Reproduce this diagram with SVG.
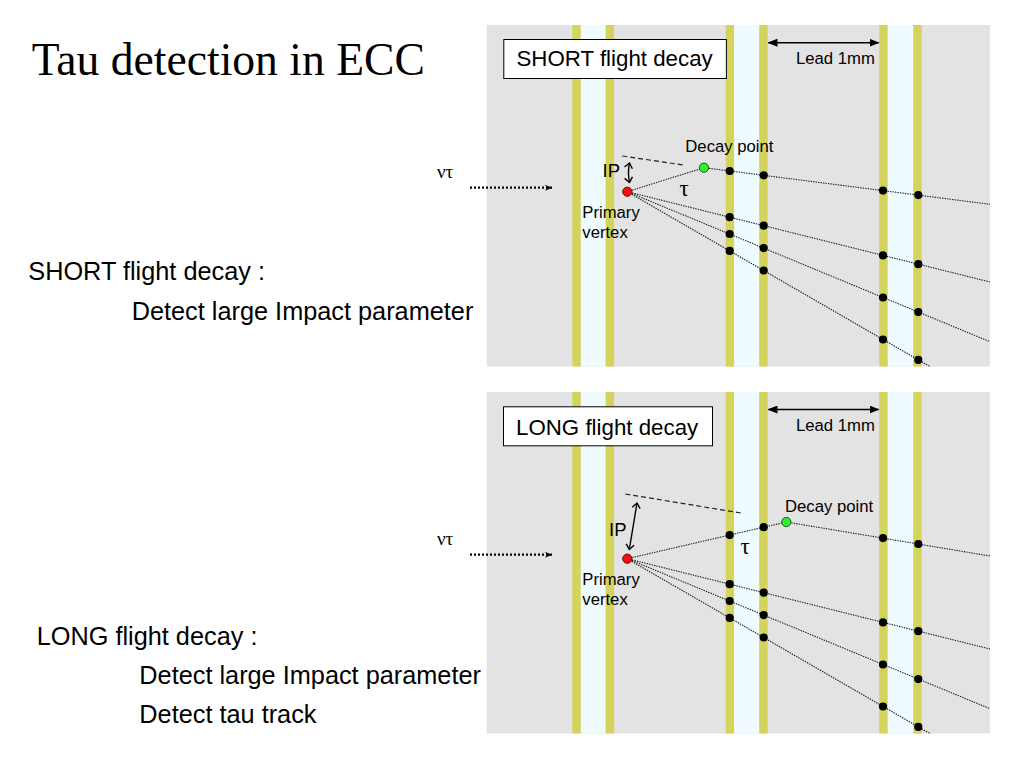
<svg xmlns="http://www.w3.org/2000/svg" width="1024" height="768" viewBox="0 0 1024 768">
<style>
.sans{font-family:"Liberation Sans",Arial,sans-serif;fill:#000}
.serif{font-family:"Liberation Serif","Times New Roman",serif;fill:#000}
.panel{fill:#e3e3e3}
.lead{fill:#d4d45c}
.gap{fill:#effbfe}
.trk{stroke:#1e1e1e;stroke-width:1.1;stroke-dasharray:1.4 1.1;fill:none}
.dash{stroke:#222;stroke-width:1.2;stroke-dasharray:5 3;fill:none}
.dot{fill:#000}
.red{fill:#ee1111;stroke:#7a0000;stroke-width:1}
.green{fill:#33ee33;stroke:#106010;stroke-width:1}
.box{fill:#fff;stroke:#000;stroke-width:1}
.small{font-size:16.7px}
.boxt{font-size:22.3px}
.side{font-size:25.3px}
</style>
<defs>
<marker id="fa" markerWidth="10" markerHeight="8" refX="9" refY="4" orient="auto-start-reverse" markerUnits="userSpaceOnUse">
<path d="M0,0 L10,4 L0,8 z" fill="#000"/>
</marker>
<marker id="oa" markerWidth="10" markerHeight="10" refX="6" refY="5" orient="auto-start-reverse" markerUnits="userSpaceOnUse">
<path d="M1,1 L6,5 L1,9" fill="none" stroke="#000" stroke-width="1.4"/>
</marker>
<marker id="na" markerWidth="9" markerHeight="8" refX="8" refY="4" orient="auto" markerUnits="userSpaceOnUse">
<path d="M1,1 L8,4 L1,7 L3,4 z" fill="#000"/>
</marker>
<clipPath id="c1"><rect x="486.7" y="25" width="503.3" height="341.5"/></clipPath>
<clipPath id="c2"><rect x="486.7" y="392" width="503.3" height="341.5"/></clipPath>
</defs>

<rect width="1024" height="768" fill="#fff"/>

<text id="title" class="serif" x="31.7" y="74.5" font-size="45.6">Tau detection in ECC</text>

<g id="side-text-top">
<text class="sans side" x="28.3" y="280">SHORT flight decay :</text>
<text class="sans side" x="131.7" y="319.5">Detect large Impact parameter</text>
</g>
<g id="side-text-bottom">
<text class="sans side" x="36.7" y="644.5">LONG flight decay :</text>
<text class="sans side" x="139.3" y="683.5">Detect large Impact parameter</text>
<text class="sans side" x="139.3" y="722.5">Detect tau track</text>
</g>

<!-- TOP PANEL -->
<g id="panel-short">
<rect class="panel" x="486.7" y="25" width="503.3" height="341.5"/>
<rect class="gap" x="580.7" y="25" width="25" height="341.5"/>
<rect class="gap" x="734" y="25" width="25.3" height="341.5"/>
<rect class="gap" x="887.6" y="25" width="25.7" height="341.5"/>
<rect class="lead" x="572.3" y="25" width="8.4" height="341.5"/>
<rect class="lead" x="605.7" y="25" width="8.4" height="341.5"/>
<rect class="lead" x="725.7" y="25" width="8.4" height="341.5"/>
<rect class="lead" x="759.3" y="25" width="8.4" height="341.5"/>
<rect class="lead" x="879.2" y="25" width="8.4" height="341.5"/>
<rect class="lead" x="913.3" y="25" width="8.4" height="341.5"/>
</g>
<g id="label-short">
<rect class="box" x="503.8" y="39.5" width="222.6" height="39"/>
<text class="sans boxt" x="516.5" y="66.3">SHORT flight decay</text>
</g>
<g id="lead-label-top">
<text class="sans small" x="796" y="64">Lead 1mm</text>
</g>

<!-- BOTTOM PANEL -->
<g id="panel-long">
<rect class="panel" x="486.7" y="392" width="503.3" height="341.5"/>
<rect class="gap" x="580.7" y="392" width="25" height="341.5"/>
<rect class="gap" x="734" y="392" width="25.3" height="341.5"/>
<rect class="gap" x="887.6" y="392" width="25.7" height="341.5"/>
<rect class="lead" x="572.3" y="392" width="8.4" height="341.5"/>
<rect class="lead" x="605.7" y="392" width="8.4" height="341.5"/>
<rect class="lead" x="725.7" y="392" width="8.4" height="341.5"/>
<rect class="lead" x="759.3" y="392" width="8.4" height="341.5"/>
<rect class="lead" x="879.2" y="392" width="8.4" height="341.5"/>
<rect class="lead" x="913.3" y="392" width="8.4" height="341.5"/>
</g>
<g id="label-long">
<rect class="box" x="503.5" y="406.8" width="209" height="39"/>
<text class="sans boxt" x="516" y="434.5">LONG flight decay</text>
</g>
<g id="lead-label-bottom">
<text class="sans small" x="796" y="431">Lead 1mm</text>
</g>

<g id="connectors">
<line x1="768.5" y1="42.7" x2="878.5" y2="42.7" stroke="#000" stroke-width="1.5" marker-start="url(#fa)" marker-end="url(#fa)"/>
<line x1="768.5" y1="409.5" x2="878.5" y2="409.5" stroke="#000" stroke-width="1.5" marker-start="url(#fa)" marker-end="url(#fa)"/>
<line x1="470" y1="187.7" x2="552" y2="187.7" stroke="#000" stroke-width="2.2" stroke-dasharray="2 2" marker-end="url(#na)"/>
<line x1="470" y1="554.7" x2="552" y2="554.7" stroke="#000" stroke-width="2.2" stroke-dasharray="2 2" marker-end="url(#na)"/>
<line class="dash" x1="622.3" y1="156" x2="683.3" y2="165"/>
<line class="dash" x1="625.3" y1="494" x2="742.7" y2="513.3"/>
<path d="M629.5,163 Q627.5,172.5 629.5,182.5" fill="none" stroke="#000" stroke-width="1.4" marker-start="url(#oa)" marker-end="url(#oa)"/>
<line x1="637" y1="503" x2="629.3" y2="549.5" stroke="#000" stroke-width="1.4" marker-start="url(#oa)" marker-end="url(#oa)"/>
<g clip-path="url(#c1)">
<line class="trk" x1="627.3" y1="191.7" x2="704" y2="167.7"/>
<line class="trk" x1="704" y1="167.7" x2="990" y2="204.3"/>
<line class="trk" x1="627.3" y1="191.7" x2="990" y2="282"/>
<line class="trk" x1="627.3" y1="191.7" x2="990" y2="341.7"/>
<line class="trk" x1="627.3" y1="191.7" x2="940" y2="372.4"/>
</g>
<g clip-path="url(#c2)">
<line class="trk" x1="627.3" y1="558.7" x2="786.3" y2="522"/>
<line class="trk" x1="786.3" y1="522" x2="990" y2="556"/>
<line class="trk" x1="627.3" y1="558.7" x2="990" y2="649"/>
<line class="trk" x1="627.3" y1="558.7" x2="990" y2="708.7"/>
<line class="trk" x1="627.3" y1="558.7" x2="940" y2="739.4"/>
</g>
</g>

<g id="hits-top">
<circle class="dot" cx="729.7" cy="171" r="4.1"/>
<circle class="dot" cx="763.7" cy="175.3" r="4.1"/>
<circle class="dot" cx="883" cy="190.6" r="4.1"/>
<circle class="dot" cx="918.3" cy="195.1" r="4.1"/>
<circle class="dot" cx="729.7" cy="217.2" r="4.1"/>
<circle class="dot" cx="763.7" cy="225.7" r="4.1"/>
<circle class="dot" cx="883" cy="255.4" r="4.1"/>
<circle class="dot" cx="918.3" cy="264.2" r="4.1"/>
<circle class="dot" cx="729.7" cy="234" r="4.1"/>
<circle class="dot" cx="763.7" cy="248.1" r="4.1"/>
<circle class="dot" cx="883" cy="297.5" r="4.1"/>
<circle class="dot" cx="918.3" cy="312.1" r="4.1"/>
<circle class="dot" cx="729.7" cy="250.9" r="4.1"/>
<circle class="dot" cx="763.7" cy="270.5" r="4.1"/>
<circle class="dot" cx="883" cy="339.5" r="4.1"/>
<circle class="dot" cx="918.3" cy="359.9" r="4.1"/>
</g>
<g id="hits-bottom">
<circle class="dot" cx="729.7" cy="535.1" r="4.1"/>
<circle class="dot" cx="763.7" cy="527.2" r="4.1"/>
<circle class="dot" cx="883" cy="538.1" r="4.1"/>
<circle class="dot" cx="918.3" cy="544" r="4.1"/>
<circle class="dot" cx="729.7" cy="584.2" r="4.1"/>
<circle class="dot" cx="763.7" cy="592.7" r="4.1"/>
<circle class="dot" cx="883" cy="622.4" r="4.1"/>
<circle class="dot" cx="918.3" cy="631.2" r="4.1"/>
<circle class="dot" cx="729.7" cy="601" r="4.1"/>
<circle class="dot" cx="763.7" cy="615.1" r="4.1"/>
<circle class="dot" cx="883" cy="664.5" r="4.1"/>
<circle class="dot" cx="918.3" cy="679.1" r="4.1"/>
<circle class="dot" cx="729.7" cy="617.9" r="4.1"/>
<circle class="dot" cx="763.7" cy="637.5" r="4.1"/>
<circle class="dot" cx="883" cy="706.5" r="4.1"/>
<circle class="dot" cx="918.3" cy="726.9" r="4.1"/>
</g>

<g id="primary-vertex-top">
<circle class="red" cx="627.3" cy="191.7" r="4.6"/>
<text class="sans small" x="582.3" y="218">Primary</text>
<text class="sans small" x="582.3" y="238">vertex</text>
</g>
<g id="decay-point-top">
<circle class="green" cx="704" cy="167.7" r="4.6"/>
<text class="sans small" x="685.3" y="152.3">Decay point</text>
</g>
<g id="ip-top"><text class="sans" font-size="18.5" x="602.5" y="177.3">IP</text></g>
<g id="tau-top"><text class="serif" font-size="23" x="684" y="195.5" text-anchor="middle">τ</text></g>
<g id="nu-top"><text class="serif" font-size="19" x="437" y="177.5">ντ</text></g>

<g id="primary-vertex-bottom">
<circle class="red" cx="627.3" cy="558.7" r="4.6"/>
<text class="sans small" x="582.3" y="585">Primary</text>
<text class="sans small" x="582.3" y="605">vertex</text>
</g>
<g id="decay-point-bottom">
<circle class="green" cx="786.3" cy="522" r="4.6"/>
<text class="sans small" x="785" y="511.7">Decay point</text>
</g>
<g id="ip-bottom"><text class="sans" font-size="18.5" x="609" y="536">IP</text></g>
<g id="tau-bottom"><text class="serif" font-size="23" x="745" y="554" text-anchor="middle">τ</text></g>
<g id="nu-bottom"><text class="serif" font-size="19" x="437" y="544.5">ντ</text></g>
</svg>
